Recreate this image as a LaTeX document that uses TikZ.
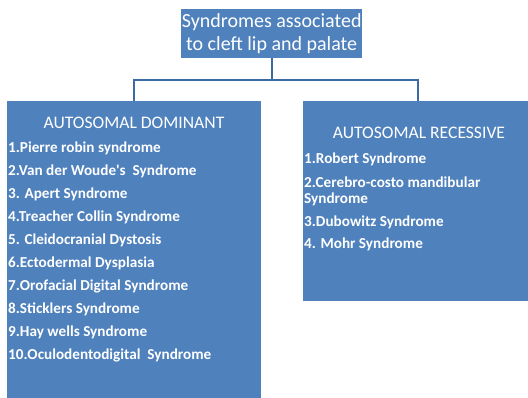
\documentclass[tikz,border=0pt]{standalone}
\usepackage{fontspec}
\setmainfont{Carlito}
\definecolor{boxblue}{HTML}{4F81BD}
\definecolor{linkblue}{HTML}{3C6AA3}
\tikzset{
	panel/.style={fill=boxblue, inner sep=0pt, anchor=north west},
	head/.style={text=white, inner sep=0pt, font=\fontsize{17.6}{19}\selectfont},
	item/.style={text=white, anchor=west, inner sep=0pt, font=\bfseries\fontsize{15.2}{16}\selectfont},
	link/.style={draw=linkblue, line width=2.2pt}
}
\begin{document}
\begin{tikzpicture}[x=1pt, y=-1pt]
	\useasboundingbox (0,0) rectangle (528,397);
	% boxes
	\node[panel, minimum width=181pt, minimum height=49pt, text=white, align=center,
		font=\fontsize{20}{22.5}\selectfont] (top) at (181,9) {Syndromes associated\\to cleft lip and palate};
	\node[panel, minimum width=254pt, minimum height=300pt] (dom) at (7,101) {};
	\node[panel, minimum width=230pt, minimum height=200pt] (rec) at (303,101) {};
	% connectors
	\coordinate (fork) at (272,80);
	\draw[link] (top.south) -- (top.south |- fork);
	\draw[link] (dom.north) -- (dom.north |- fork) -| (rec.north);
	% headings
	\node[head] (domhead) at (134,123) {AUTOSOMAL DOMINANT};
	\node[head] (rechead) at (419,133) {AUTOSOMAL RECESSIVE};
	% dominant list
	\foreach \t [count=\i] in {1.Pierre\ robin syndrome, 2.Van der Woude\textquotesingle s\ \ Syndrome, 3. Apert Syndrome,
		4.Treacher Collin Syndrome, 5. Cleidocranial Dystosis, 6.Ectodermal Dysplasia,
		7.Orofacial Digital Syndrome, 8.Sticklers Syndrome, 9.Hay wells Syndrome,
		10.Oculodentodigital\ \ Syndrome}
		\node[item] (dom\i) at (8,{148+23*(\i-1)}) {\t};
	% recessive list
	\node[item] (rec1) at (304,159) {1.Robert Syndrome};
	\node[item, align=left] (rec2) at (304,191) {2.Cerebro-costo mandibular\\Syndrome};
	\node[item] (rec3) at (304,222) {3.Dubowitz Syndrome};
	\node[item] (rec4) at (304,244) {4. Mohr Syndrome};
\end{tikzpicture}
\end{document}
